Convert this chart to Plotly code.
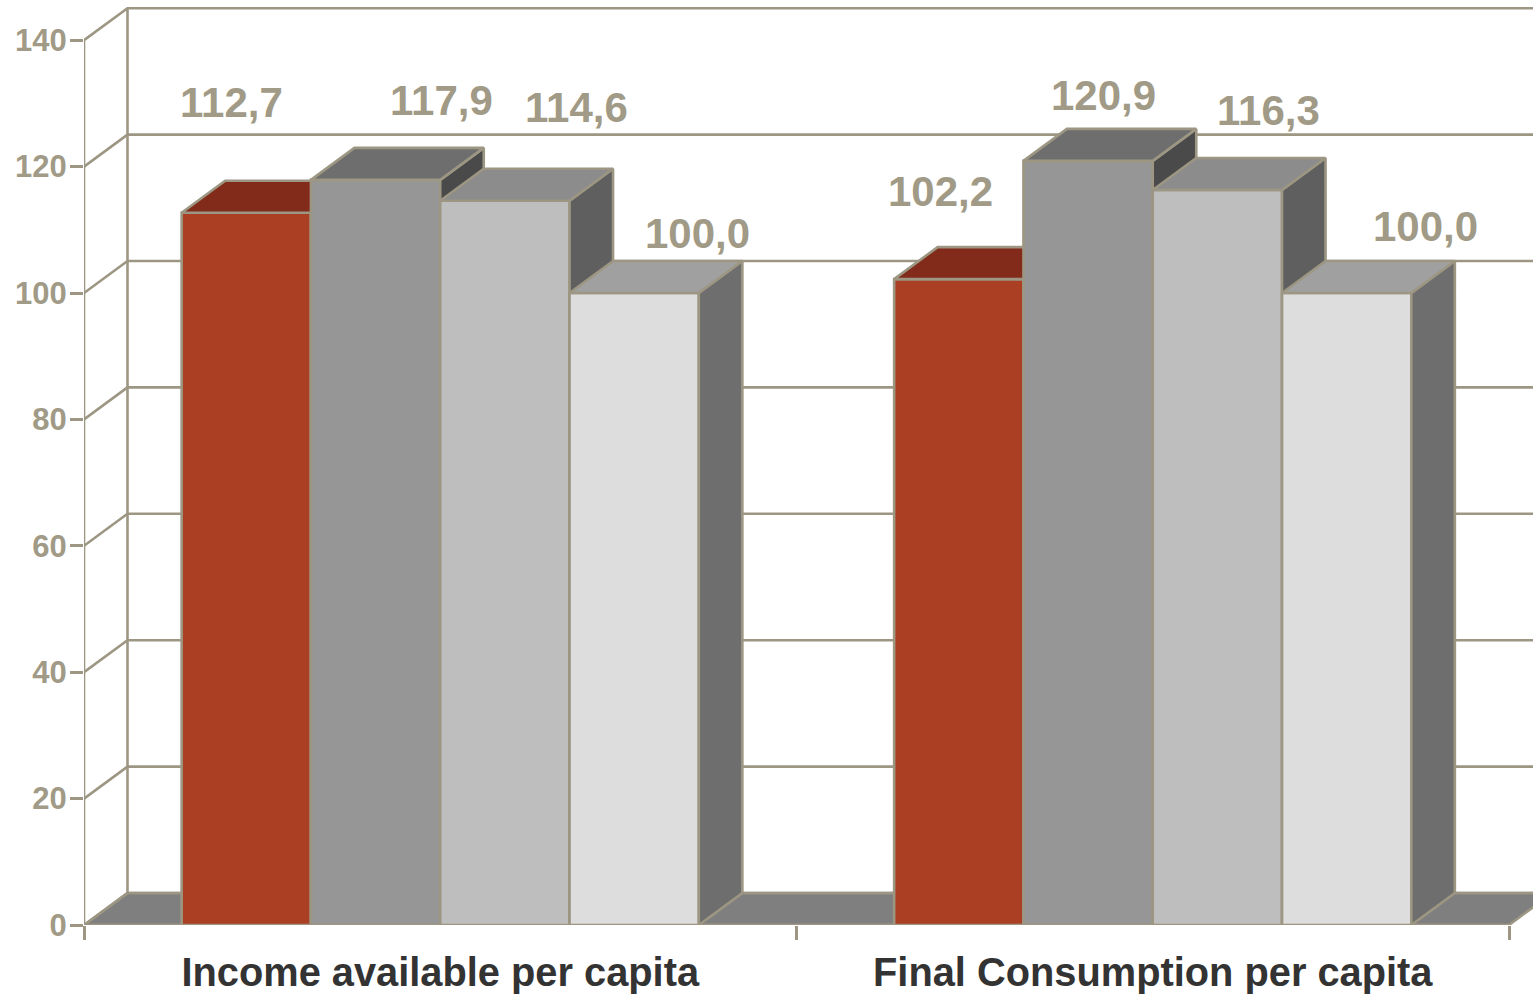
import plotly.graph_objects as go

# ---- data ----
categories = ["Income available per capita", "Final Consumption per capita"]
series_a = [112.7, 102.2]
series_b = [117.9, 120.9]
series_c = [114.6, 116.3]
series_d = [100.0, 100.0]
y_ticks = [0, 20, 40, 60, 80, 100, 120, 140]

# ---- styling / geometry ----
W, H = 1533, 997
ML, MB = 84, 72
PX_X = 712.5          # px per category
PX_Y = 6.32           # px per value unit
DX = 43.5 / PX_X      # depth offset
DY = 32 / PX_Y
BAR_W = 129.3 / PX_X
LINE = "#9C9683"
LW = 2.6
TXT = "#A09A86"
series = [series_a, series_b, series_c, series_d]
front = ["#AB3F24", "#969696", "#BEBEBE", "#DDDDDD"]
top = ["#832B1B", "#6E6E6E", "#8C8C8C", "#A0A0A0"]
side = ["#5A1D12", "#4A4A4A", "#5F5F5F", "#6E6E6E"]
label_dx = [[-15, -18], [66, 15], [72, 51], [63, 79]]
label_dy = [[110, 88], [79, 65], [93, 79], [60, 67]]

xmax = (W - ML) / PX_X
ymax = (H - MB) / PX_Y
cx = [i + 0.5 for i in range(len(categories))]

fig = go.Figure()


def poly(xs, ys, fill, ax="x", ay="y"):
    fig.add_trace(go.Scatter(x=xs, y=ys, mode="lines", fill="toself", fillcolor=fill,
                             line=dict(color=LINE, width=LW), cliponaxis=False,
                             hoverinfo="skip", showlegend=False, xaxis=ax, yaxis=ay))


def line(xs, ys, ax="x", ay="y"):
    fig.add_trace(go.Scatter(x=xs, y=ys, mode="lines", line=dict(color=LINE, width=LW),
                             cliponaxis=False, hoverinfo="skip", showlegend=False,
                             xaxis=ax, yaxis=ay))


# floor
poly([0, DX, xmax + DX, 2 + DX, 2, 0], [0, DY, DY, DY, 0, 0], "#7F7F7F")
# walls and grid
line([0, 0], [0, y_ticks[-1]])
line([DX, DX], [DY, y_ticks[-1] + DY])
for t in y_ticks:
    line([0, DX, xmax + DX], [t, t + DY, t + DY])
line([0, 2], [0, 0])

# bars: one overlaid axis pair per series so that each series paints over the previous
for i, vals in enumerate(series):
    ax, ay = f"x{i + 2}", f"y{i + 2}"
    off = (i - 2) * BAR_W
    fig.add_trace(go.Bar(x=cx, y=vals, width=BAR_W, offset=off,
                         marker=dict(color=front[i], line=dict(color=LINE, width=LW)),
                         cliponaxis=False, showlegend=False, xaxis=ax, yaxis=ay))
    for c, v in zip(cx, vals):
        x0, x1 = c + off, c + off + BAR_W
        poly([x1, x1 + DX, x1 + DX, x1, x1], [0, DY, v + DY, v, 0], side[i], ax, ay)
        poly([x0, x1, x1 + DX, x0 + DX, x0], [v, v, v + DY, v + DY, v], top[i], ax, ay)
    fig.update_layout({
        f"xaxis{i + 2}": dict(overlaying="x", anchor=ay, range=[0, xmax], visible=False),
        f"yaxis{i + 2}": dict(overlaying="y", anchor=ax, range=[0, ymax], visible=False),
    })

# data labels
annotations = []
for i, vals in enumerate(series):
    for j, v in enumerate(vals):
        annotations.append(dict(
            x=cx[j] + (i - 1.5) * BAR_W, y=v, xref="x", yref="y",
            text=f"{v:.1f}".replace(".", ","), showarrow=False,
            xshift=label_dx[i][j], yshift=label_dy[i][j],
            font=dict(family="Liberation Sans", size=42, color=TXT, weight="bold"),
        ))

fig.update_layout(
    width=W, height=H, margin=dict(l=ML, r=0, t=0, b=MB),
    paper_bgcolor="white", plot_bgcolor="white", showlegend=False,
    annotations=annotations,
    xaxis=dict(range=[0, xmax], tickmode="array", tickvals=cx, ticktext=categories,
               ticks="", showgrid=False, zeroline=False, showline=False,
               ticklabelstandoff=20,
               tickfont=dict(family="Liberation Sans", size=39.8, color="#333333", weight="bold"),
               minor=dict(tickmode="array", tickvals=[0, 1, 2], ticks="outside", ticklen=14,
                          tickwidth=LW, tickcolor=LINE, showgrid=False)),
    yaxis=dict(range=[0, ymax], tickmode="array", tickvals=y_ticks, ticks="outside",
               ticklen=13, tickwidth=LW, tickcolor=LINE, showgrid=False, zeroline=False,
               showline=False, ticklabelstandoff=-3,
               tickfont=dict(family="Liberation Sans", size=31, color=TXT, weight="bold")),
)

fig.write_html("out.html", config=dict(displayModeBar=False),
               post_script="document.body.style.margin='0';document.body.style.overflow='hidden';")
